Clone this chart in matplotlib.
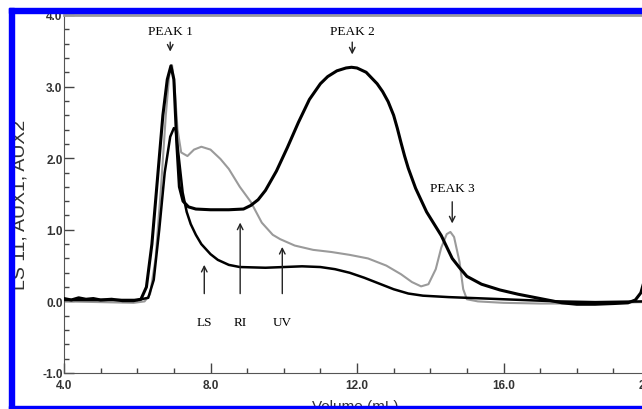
import matplotlib
matplotlib.use("Agg")
import matplotlib.pyplot as plt
from matplotlib.patches import Rectangle
from matplotlib.ticker import MultipleLocator, FormatStrFormatter

# -----------------------------
# data
# -----------------------------
ri_x = [4.0, 4.2, 4.4, 4.6, 4.8, 5.0, 5.3, 5.6, 5.9, 6.1, 6.25, 6.4, 6.55, 6.7,
        6.82, 6.92, 7.0, 7.08, 7.15, 7.25, 7.4, 7.6, 8.0, 8.5, 8.9, 9.1, 9.3,
        9.5, 9.8, 10.1, 10.4, 10.7, 11.0, 11.2, 11.45, 11.7, 11.85, 12.0, 12.25,
        12.55, 12.7, 12.85, 13.0, 13.1, 13.2, 13.3, 13.4, 13.6, 13.9, 14.3, 14.6,
        14.8, 15.0, 15.4, 15.9, 16.4, 16.8, 17.2, 17.6, 18.0, 18.5, 19.0, 19.4,
        19.6, 19.75, 19.85]
ri_y = [0.04, 0.02, 0.05, 0.03, 0.04, 0.02, 0.03, 0.01, 0.01, 0.03, 0.2, 0.8,
        1.7, 2.6, 3.1, 3.29, 3.1, 2.2, 1.6, 1.4, 1.32, 1.29, 1.28, 1.28, 1.29,
        1.34, 1.42, 1.55, 1.82, 2.15, 2.5, 2.82, 3.04, 3.14, 3.22, 3.26, 3.27,
        3.26, 3.2, 3.04, 2.93, 2.79, 2.6, 2.42, 2.22, 2.03, 1.86, 1.58, 1.25,
        0.92, 0.6, 0.47, 0.35, 0.24, 0.16, 0.1, 0.06, 0.02, -0.02, -0.04, -0.04,
        -0.03, -0.02, 0.02, 0.12, 0.3]

uv_x = [4.0, 5.0, 5.9, 6.2, 6.35, 6.5, 6.65, 6.78, 6.88, 6.95, 7.02, 7.1, 7.2,
        7.37, 7.55, 7.75, 8.0, 8.27, 8.5, 8.8, 9.1, 9.4, 9.7, 9.9, 10.3, 10.8,
        11.3, 11.8, 12.3, 12.8, 13.2, 13.5, 13.75, 13.95, 14.15, 14.3, 14.45,
        14.55, 14.65, 14.8, 14.9, 15.0, 15.3, 16.0, 17.0, 18.0, 19.0, 19.8]
uv_y = [0.0, -0.01, -0.02, 0.0, 0.1, 0.6, 1.6, 2.6, 3.2, 3.3, 3.0, 2.4, 2.08,
        2.03, 2.12, 2.16, 2.12, 1.99, 1.85, 1.6, 1.39, 1.1, 0.93, 0.87, 0.78,
        0.72, 0.69, 0.65, 0.6, 0.5, 0.38, 0.27, 0.21, 0.24, 0.45, 0.75, 0.94,
        0.97, 0.9, 0.55, 0.17, 0.03, 0.0, -0.02, -0.03, -0.03, -0.02, -0.01]

ls_x = [4.0, 5.0, 6.0, 6.3, 6.45, 6.6, 6.75, 6.9, 7.0, 7.05, 7.1, 7.24, 7.35,
        7.46, 7.6, 7.75, 8.0, 8.2, 8.5, 8.8, 9.5, 10.0, 10.5, 11.0, 11.4, 11.8,
        12.2, 12.6, 13.0, 13.4, 13.8, 14.5, 15.5, 16.5, 17.5, 18.5, 19.8]
ls_y = [0.02, 0.02, 0.02, 0.05, 0.3, 1.0, 1.8, 2.3, 2.42, 2.4, 2.17, 1.52,
        1.25, 1.08, 0.93, 0.8, 0.66, 0.58, 0.51, 0.48, 0.47, 0.48, 0.49, 0.48,
        0.45, 0.4, 0.33, 0.25, 0.17, 0.11, 0.08, 0.06, 0.04, 0.02, 0.0, -0.01, 0.0]

# peak labels: (text, x, text y, arrow start y, arrow end y)
peaks = [("PEAK 1", 6.9, 3.78, 3.66, 3.45),
         ("PEAK 2", 11.87, 3.78, 3.66, 3.41),
         ("PEAK 3", 14.6, 1.58, 1.43, 1.05)]
# detector labels: (text, x, arrow top y)
detectors = [("LS", 7.83, 0.55), ("RI", 8.81, 1.14), ("UV", 9.96, 0.80)]

# -----------------------------
# Plot
# -----------------------------
fig = plt.figure(figsize=(6.42, 4.10), dpi=100)
ax = fig.add_axes([64 / 642, 36 / 410, 586 / 642, 358 / 410])

ax.plot(uv_x, uv_y, color="#9a9a9a", linewidth=1.5, zorder=2)
ax.plot(ls_x, ls_y, color="black", linewidth=1.8, zorder=3)
ax.plot(ri_x, ri_y, color="black", linewidth=2.2, zorder=4)

serif = "Liberation Serif"
for name, x, ty, y0, y1 in peaks:
    ax.text(x, ty, name, ha="center", va="center", fontsize=9.5, family=serif)
    ax.annotate("", xy=(x, y1), xytext=(x, y0),
                arrowprops=dict(arrowstyle="->", color="#222222", lw=1.0))

for name, x, top in detectors:
    ax.annotate("", xy=(x, top), xytext=(x, 0.07),
                arrowprops=dict(arrowstyle="->", color="#222222", lw=1.0))
    ax.text(x, -0.29, name, ha="center", va="center", fontsize=9.5, family=serif)

ax.set_xlim(4.0, 20.0)
ax.set_ylim(-1.0, 4.0)
ax.xaxis.set_major_locator(MultipleLocator(4.0))
ax.xaxis.set_minor_locator(MultipleLocator(1.0))
ax.yaxis.set_major_locator(MultipleLocator(1.0))
ax.yaxis.set_minor_locator(MultipleLocator(0.2))
ax.xaxis.set_major_formatter(FormatStrFormatter("%.1f"))
ax.yaxis.set_major_formatter(FormatStrFormatter("%.1f"))

for lab in ax.get_xticklabels() + ax.get_yticklabels():
    lab.set_family("Liberation Sans")
    lab.set_fontweight("bold")
ax.tick_params(which="both", direction="in", colors="#444444", labelcolor="#333333",
               labelsize=8.5, top=False, right=False)
ax.tick_params(which="major", length=7, width=1)
ax.tick_params(which="minor", length=3.5, width=1)
ax.tick_params(axis="y", pad=1)
ax.tick_params(axis="x", pad=4)

for side in ["left", "bottom"]:
    ax.spines[side].set_color("#555555")
ax.spines["top"].set_color("#9a9a9a")
ax.spines["top"].set_linewidth(2)
ax.spines["right"].set_visible(False)

fig.text(20 / 642, 1 - 205 / 410, "LS 11, AUX1, AUX2", rotation=90,
         ha="center", va="center", fontsize=14, family="Liberation Sans",
         color="#333333")
fig.text(355 / 642, 1 - 407 / 410, "Volume (mL)", ha="center", va="center",
         fontsize=11, family="Liberation Sans", color="#333333")

# blue frame of the original figure
blue = "#0000ff"
fig.patches.append(Rectangle((9 / 642, 1 - 14 / 410), 1, 5 / 410,
                             transform=fig.transFigure, color=blue, zorder=10))
fig.patches.append(Rectangle((9 / 642, 0), 5 / 642, 1 - 9 / 410,
                             transform=fig.transFigure, color=blue, zorder=10))
fig.patches.append(Rectangle((9 / 642, 0), 1, 3 / 410,
                             transform=fig.transFigure, color=blue, zorder=10))

fig.savefig("out.png", dpi=100)
